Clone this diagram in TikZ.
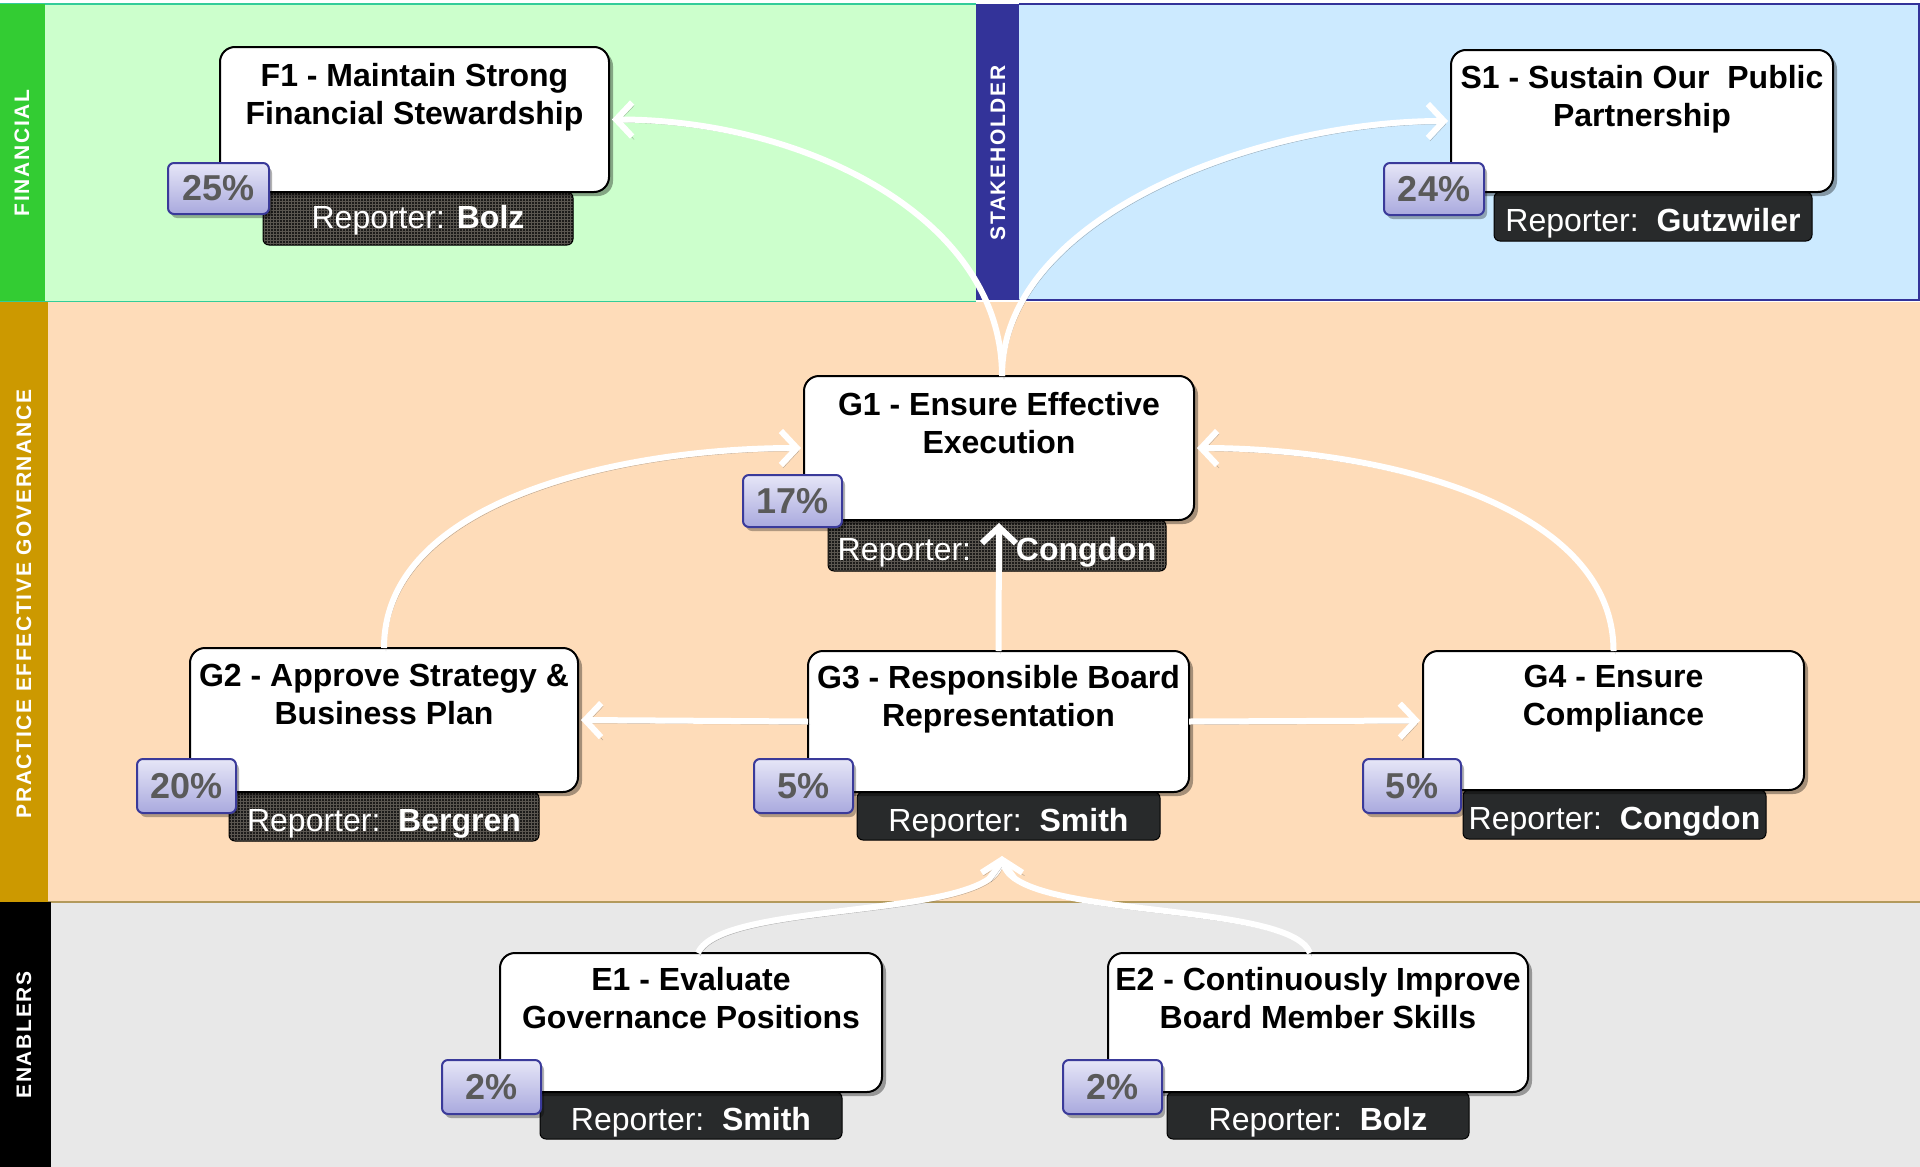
\documentclass[tikz,border=0pt]{standalone}
\usepackage{fontspec}
\setmainfont{Liberation Sans}
\newfontfamily\sidefont[LetterSpace=8]{Liberation Sans}
\usetikzlibrary{arrows.meta,shadows,patterns}

\definecolor{finfill}{HTML}{CCFFCC}
\definecolor{finstripe}{HTML}{33CC33}
\definecolor{finline}{HTML}{33CC99}
\definecolor{stkfill}{HTML}{CCEAFF}
\definecolor{stkstripe}{HTML}{333399}
\definecolor{govfill}{HTML}{FEDCB9}
\definecolor{govstripe}{HTML}{CC9900}
\definecolor{govline}{HTML}{B39A5C}
\definecolor{enfill}{HTML}{E8E8E8}
\definecolor{barcol}{HTML}{282A2B}
\definecolor{texbarcol}{HTML}{1C1B1A}
\definecolor{texgrid}{HTML}{5A5650}
\definecolor{badgetop}{HTML}{E6E6F7}
\definecolor{badgebot}{HTML}{A9A9DE}
\definecolor{badgeline}{HTML}{3A3A9A}
\definecolor{pcttext}{HTML}{5A5A5A}

\newcommand{\reptext}[2][7pt]{\raisebox{-#1}[\height][\depth]{#2}}

\tikzset{
  goalbox/.style={draw=black, line width=2pt, fill=white, rounded corners=15pt,
    inner sep=0pt, outer sep=0pt,
    drop shadow={shadow xshift=4pt, shadow yshift=-4pt, opacity=0.35, fill=black}},
  goaltitle/.style={anchor=north, align=center, inner sep=0pt,
    font=\fontsize{32}{38}\selectfont\bfseries},
  repbar/.style={fill=barcol, draw=black, line width=1pt, rounded corners=6pt,
    text=white, inner sep=0pt, outer sep=0pt,
    font=\fontsize{32}{38}\selectfont},
  texbar/.style={repbar, preaction={fill=texbarcol}, pattern=grid, pattern color=texgrid},
  badge/.style={draw=badgeline, line width=2pt, top color=badgetop, bottom color=badgebot,
    rounded corners=6pt, inner sep=0pt, outer sep=0pt, text=pcttext,
    font=\fontsize{36}{40}\selectfont\bfseries,
    drop shadow={shadow xshift=3pt, shadow yshift=-4pt, opacity=0.3, fill=black}},
  sidelabel/.style={rotate=90, text=white, inner sep=0pt,
    font=\fontsize{21}{24}\selectfont\sidefont\bfseries},
  flow/.style={draw=white, line width=6pt, -{Straight Barb[length=16pt,width=34pt]},
    preaction={draw=black!55, opacity=0.55, transform canvas={shift={(2pt,-3pt)}}}},
}

\begin{document}
\begin{tikzpicture}[x=1pt,y=-1pt]
\useasboundingbox (0,0) rectangle (1920,1167);
\fill[white] (0,0) rectangle (1920,1167);

% Financial band
\fill[finfill] (45,4) rectangle (976,302);
\draw[finline, line width=2.5pt] (0,4) -- (976,4) (0,302) -- (976,302);
\fill[finstripe] (0,4) rectangle (45,301);
\node[sidelabel] (finlab) at (22,153) {FINANCIAL};

% Stakeholder band
\fill[stkfill] (1019,4) rectangle (1920,300);
\draw[stkstripe, line width=2.5pt] (1019,4) -- (1919,4) -- (1919,300) -- (1019,300);
\fill[stkstripe] (976,4) rectangle (1019,300);
\node[sidelabel] (stklab) at (998,153) {STAKEHOLDER};

% Governance band
\fill[govfill] (48,302) rectangle (1920,902);
\fill[govstripe] (0,302) rectangle (48,902);
\draw[govline, line width=2pt] (48,902) -- (1920,902);
\node[sidelabel] (govlab) at (24,604) {PRACTICE EFFECTIVE GOVERNANCE};

% Enablers band
\fill[enfill] (51,903) rectangle (1920,1167);
\fill[black] (0,902) rectangle (51,1167);
\node[sidelabel] (enlab) at (24,1035) {ENABLERS};

% Reporter bars
\node[texbar, minimum width=310pt, minimum height=53pt] (F1r) at (418,218.5) {\reptext[2pt]{Reporter: \textbf{Bolz}}};
\node[repbar, minimum width=318pt, minimum height=49pt] (S1r) at (1653,216.5) {\reptext{Reporter:\ \ \textbf{Gutzwiler}}};
\node[texbar, minimum width=338pt, minimum height=51pt] (G1r) at (997,545.5) {\reptext{Reporter:\hspace{1.4em}\textbf{Congdon}}};
\node[texbar, minimum width=310pt, minimum height=49pt] (G2r) at (384,816.5) {\reptext{Reporter:\ \ \textbf{Bergren}}};
\node[repbar, minimum width=303pt, minimum height=48pt] (G3r) at (1008.5,816) {\reptext{Reporter:\ \ \textbf{Smith}}};
\node[repbar, minimum width=303pt, minimum height=49pt] (G4r) at (1614.5,814.5) {\reptext{Reporter:\ \ \textbf{Congdon}}};
\node[repbar, minimum width=302pt, minimum height=47pt] (E1r) at (691,1115.5) {\reptext{Reporter:\ \ \textbf{Smith}}};
\node[repbar, minimum width=302pt, minimum height=47pt] (E2r) at (1318,1115.5) {\reptext{Reporter:\ \ \textbf{Bolz}}};

% Goal boxes
\node[goalbox, minimum width=389pt, minimum height=145pt] (F1) at (414.5,119.5) {};
\node[goalbox, minimum width=382pt, minimum height=142pt] (S1) at (1642,121) {};
\node[goalbox, minimum width=390pt, minimum height=144pt] (G1) at (999,448) {};
\node[goalbox, minimum width=388pt, minimum height=144pt] (G2) at (384,720) {};
\node[goalbox, minimum width=381pt, minimum height=141pt] (G3) at (998.5,721.5) {};
\node[goalbox, minimum width=381pt, minimum height=139pt] (G4) at (1613.5,720.5) {};
\node[goalbox, minimum width=382pt, minimum height=139pt] (E1) at (691,1022.5) {};
\node[goalbox, minimum width=420pt, minimum height=139pt] (E2) at (1318,1022.5) {};

% Titles
\node[goaltitle] (F1t) at ([yshift=-16pt]F1.north) {F1 - Maintain Strong\\Financial Stewardship};
\node[goaltitle] (S1t) at ([yshift=-15pt]S1.north) {S1 - Sustain Our\ \ Public\\Partnership};
\node[goaltitle] (G1t) at ([yshift=-16pt]G1.north) {G1 - Ensure Effective\\Execution};
\node[goaltitle] (G2t) at ([yshift=-16pt]G2.north) {G2 - Approve Strategy \&\\Business Plan};
\node[goaltitle] (G3t) at ([yshift=-14pt]G3.north) {G3 - Responsible Board\\Representation};
\node[goaltitle] (G4t) at ([yshift=-14pt]G4.north) {G4 - Ensure\\Compliance};
\node[goaltitle] (E1t) at ([yshift=-14pt]E1.north) {E1 - Evaluate\\Governance Positions};
\node[goaltitle] (E2t) at ([yshift=-14pt]E2.north) {E2 - Continuously Improve\\Board Member Skills};

% Percent badges
\node[badge, minimum width=101pt, minimum height=51pt] (F1p) at (218.5,188.5) {25\%};
\node[badge, minimum width=100pt, minimum height=52pt] (S1p) at (1434,189) {24\%};
\node[badge, minimum width=99pt, minimum height=52pt] (G1p) at (792.5,501) {17\%};
\node[badge, minimum width=99pt, minimum height=54pt] (G2p) at (186.5,786) {20\%};
\node[badge, minimum width=99pt, minimum height=54pt] (G3p) at (803.5,786) {5\%};
\node[badge, minimum width=98pt, minimum height=54pt] (G4p) at (1412,786) {5\%};
\node[badge, minimum width=99pt, minimum height=54pt] (E1p) at (491.5,1087) {2\%};
\node[badge, minimum width=99pt, minimum height=54pt] (E2p) at (1112.5,1087) {2\%};

% Connectors
\coordinate (G3in) at (1002,856);
\draw[flow] ([xshift=3pt]G1.north) .. controls +(0,-160) and +(190,0) .. ([xshift=3pt]F1.east);
\draw[flow] ([xshift=3pt]G1.north) .. controls +(0,-160) and +(-190,0) .. ([xshift=-3pt]S1.west);
\draw[flow] (G2.north) .. controls +(0,-148) and +(-180,0) .. ([xshift=-3pt]G1.west);
\draw[flow] (G4.north) .. controls +(0,-148) and +(180,0) .. ([xshift=3pt]G1.east);
\draw[flow] (G3.north) -- ([yshift=-3pt]G1.south);
\draw[flow] (G3.west) -- ([xshift=3pt]G2.east);
\draw[flow] (G3.east) -- ([xshift=-3pt]G4.west);
\draw[flow] ([xshift=7pt]E1.north) .. controls (720,900) and (990,920) .. (G3in);
\draw[flow] ([xshift=-8pt]E2.north) .. controls (1290,900) and (1014,920) .. (G3in);
\end{tikzpicture}
\end{document}
